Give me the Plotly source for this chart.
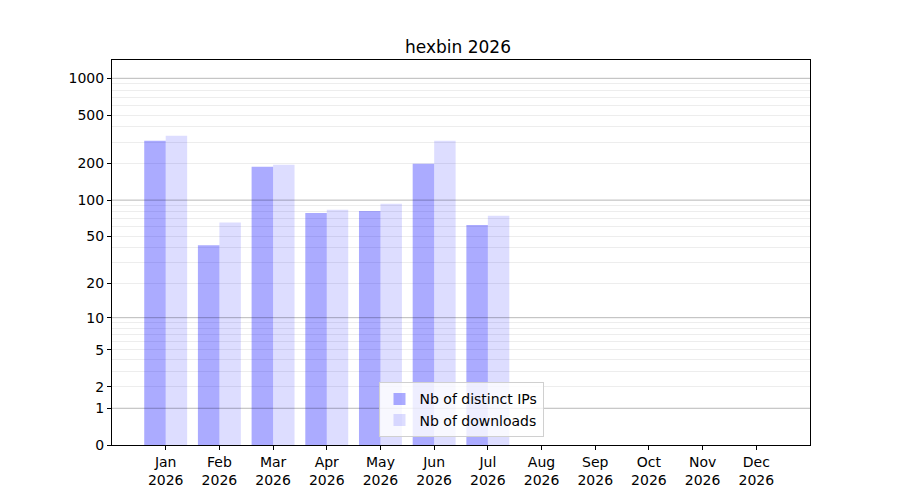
import numpy as np
import plotly.graph_objects as go

# Dados
meses = ["Jan", "Feb", "Mar", "Apr", "May", "Jun", "Jul", "Aug", "Sep", "Oct", "Nov", "Dec"]
ano = "2026"
ips_distintos = [308, 42, 188, 78, 81, 199, 62, 0, 0, 0, 0, 0]
downloads = [338, 65, 195, 83, 93, 308, 74, 0, 0, 0, 0, 0]
rotulos_y = [0, 1, 2, 5, 10, 20, 50, 100, 200, 500, 1000]
linhas_fortes = [1, 10, 100, 1000]
linhas_fracas = [3, 4, 6, 7, 8, 9, 30, 40, 60, 70, 80, 90, 300, 400, 600, 700, 800, 900]


# escala log10(x + 1)
def escala(v):
    return np.log10(np.array(v, dtype=float) + 1)


categorias = [m + "<br>" + ano for m in meses]

fig = go.Figure()

fig.add_trace(go.Bar(x=categorias, y=escala(ips_distintos), name="Nb of distinct IPs",
                     marker=dict(color="rgba(0,0,255,0.33)", line=dict(width=0)),
                     customdata=ips_distintos, hovertemplate="%{customdata}<extra></extra>"))
fig.add_trace(go.Bar(x=categorias, y=escala(downloads), name="Nb of downloads",
                     marker=dict(color="rgba(0,0,255,0.135)", line=dict(width=0)),
                     customdata=downloads, hovertemplate="%{customdata}<extra></extra>"))

# Linhas de grade principais (por cima das barras)
for v in linhas_fortes:
    fig.add_hline(y=float(escala(v)), line=dict(color="rgba(0,0,0,0.22)", width=1), layer="above")

# a página tem margem de 8px no body, por isso a margem é compensada
fig.update_layout(
    width=900, height=500,
    plot_bgcolor="white", paper_bgcolor="white",
    font=dict(family="DejaVu Sans", size=14, color="black"),
    title=dict(text="hexbin 2026", x=0.5, xanchor="center", y=0.922, yanchor="middle",
               font=dict(size=17)),
    margin=dict(l=104, r=98, t=52, b=63),
    barmode="group", bargap=0.2, bargroupgap=0,
    showlegend=True,
    legend=dict(x=0.5, xanchor="center", y=0.02, yanchor="bottom",
                bgcolor="rgba(255,255,255,0.8)", bordercolor="#d0d0d0", borderwidth=1,
                font=dict(size=14)),
)

fig.update_xaxes(range=[-1, 12], showline=True, linecolor="black", linewidth=1, mirror=True,
                 ticks="outside", ticklen=4, tickcolor="black", showgrid=False)

fig.update_yaxes(range=[0, 3.15], showline=True, linecolor="black", linewidth=1, mirror=True,
                 tickmode="array", tickvals=escala(rotulos_y), ticktext=[str(t) for t in rotulos_y],
                 ticks="outside", ticklen=4, tickcolor="black",
                 showgrid=True, gridcolor="rgba(0,0,0,0.07)", gridwidth=1, zeroline=False,
                 minor=dict(tickmode="array", tickvals=escala(linhas_fracas), showgrid=True,
                            gridcolor="rgba(0,0,0,0.07)", gridwidth=1, ticks=""))

fig.write_html("out.html")
